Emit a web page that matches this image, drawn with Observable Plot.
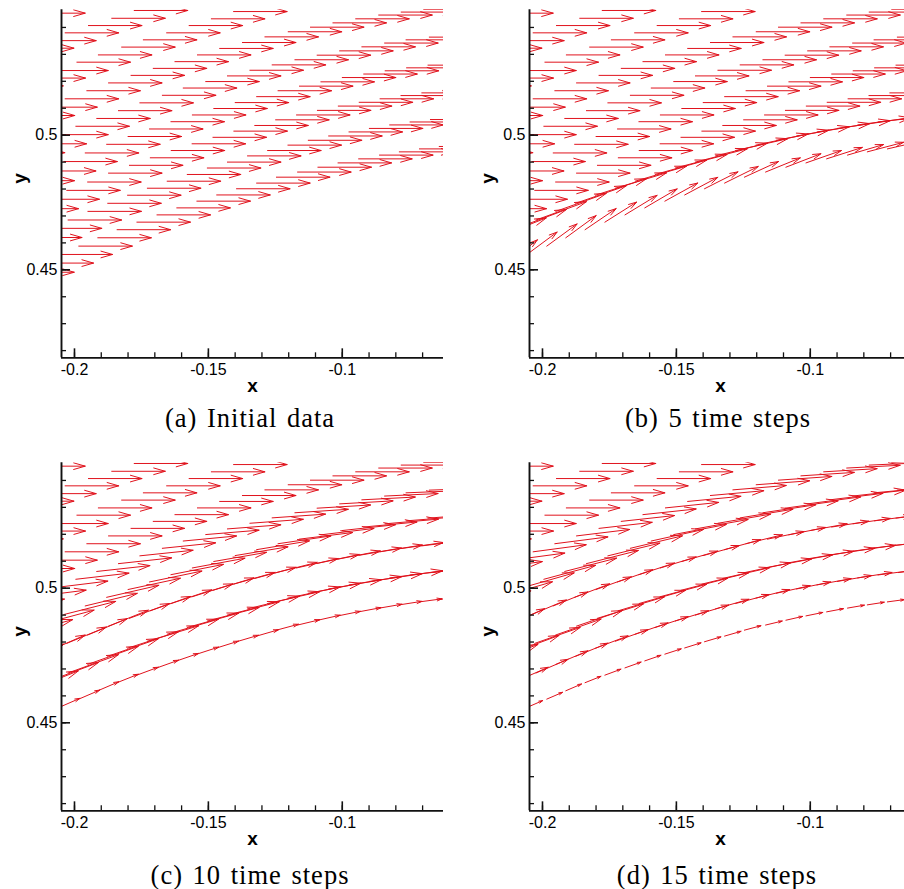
<!DOCTYPE html>
<html><head><meta charset="utf-8">
<script src="https://cdn.jsdelivr.net/npm/d3@7"></script>
<script src="https://cdn.jsdelivr.net/npm/@observablehq/plot@0.6"></script>
<style>
html,body{margin:0;padding:0;background:#fff;}
body{width:904px;height:889px;overflow:hidden;position:relative;}
.panel{position:absolute;width:444px;}
.panel svg{max-width:none !important;}
.cap{position:absolute;transform:translate(-50%,-50%);white-space:nowrap;font-family:"Liberation Serif","Times New Roman",serif;font-size:26.5px;line-height:1;letter-spacing:1px;word-spacing:2px;color:#000;}
</style></head><body>
<script>
// ---------- data: particle rows (arrow tails) ----------
const rowZ_x = [-0.2160];
const rowZ_y = [0.5453];
const rowA_x = [-0.2202, -0.2119, -0.2035, -0.1948, -0.1861, -0.1777];
const rowA_y = [0.5323, 0.5351, 0.5380, 0.5407, 0.5434, 0.5463];
const rowB_x = [-0.2242, -0.2159, -0.2074, -0.1991, -0.1911, -0.1824, -0.1743, -0.1656, -0.1572, -0.1489, -0.1406];
const rowB_y = [0.5183, 0.5212, 0.5240, 0.5271, 0.5298, 0.5327, 0.5354, 0.5380, 0.5407, 0.5432, 0.5459];
const rowC_x = [-0.2199, -0.2115, -0.2035, -0.1954, -0.1873, -0.1789, -0.1706, -0.1625, -0.1541, -0.1458, -0.1373, -0.1289, -0.1202, -0.1119, -0.1035, -0.0950, -0.0864, -0.0780, -0.0696];
const rowC_y = [0.5073, 0.5104, 0.5135, 0.5165, 0.5194, 0.5222, 0.5248, 0.5273, 0.5298, 0.5322, 0.5344, 0.5365, 0.5384, 0.5401, 0.5417, 0.5432, 0.5446, 0.5457, 0.5467];
const rowD_x = [-0.2236, -0.2155, -0.2074, -0.1995, -0.1917, -0.1836, -0.1756, -0.1672, -0.1594, -0.1510, -0.1429, -0.1345, -0.1262, -0.1177, -0.1094, -0.1010, -0.0927, -0.0842, -0.0762, -0.0675];
const rowD_y = [0.4935, 0.4968, 0.5002, 0.5033, 0.5062, 0.5091, 0.5120, 0.5148, 0.5175, 0.5199, 0.5220, 0.5241, 0.5261, 0.5280, 0.5297, 0.5313, 0.5328, 0.5342, 0.5354, 0.5364];
const rowE_x = [-0.2200, -0.2120, -0.2040, -0.1960, -0.1880, -0.1800, -0.1720, -0.1640, -0.1560, -0.1480, -0.1400, -0.1320, -0.1240, -0.1160, -0.1080, -0.1000, -0.0920, -0.0840, -0.0760, -0.0680];
const rowE_y = [0.4831, 0.4867, 0.4902, 0.4934, 0.4966, 0.4995, 0.5023, 0.5050, 0.5075, 0.5099, 0.5121, 0.5143, 0.5165, 0.5182, 0.5198, 0.5214, 0.5227, 0.5239, 0.5250, 0.5260];
const rowF_x = [-0.2185, -0.2107, -0.2029, -0.1951, -0.1873, -0.1795, -0.1717, -0.1639, -0.1561, -0.1483, -0.1405, -0.1327, -0.1249, -0.1171, -0.1093, -0.1015, -0.0937, -0.0859, -0.0781, -0.0703, -0.0625];
const rowF_y = [0.4727, 0.4762, 0.4795, 0.4826, 0.4859, 0.4888, 0.4916, 0.4943, 0.4968, 0.4992, 0.5015, 0.5036, 0.5057, 0.5075, 0.5092, 0.5108, 0.5122, 0.5135, 0.5147, 0.5157, 0.5166];
const rowG_x = [-0.2172, -0.2098, -0.2024, -0.1950, -0.1876, -0.1802, -0.1728, -0.1654, -0.1579, -0.1504, -0.1429, -0.1354, -0.1279, -0.1203, -0.1127, -0.1051, -0.0975, -0.0899, -0.0823, -0.0747, -0.0671];
const rowG_y = [0.4620, 0.4654, 0.4685, 0.4717, 0.4747, 0.4777, 0.4803, 0.4829, 0.4854, 0.4878, 0.4900, 0.4923, 0.4943, 0.4963, 0.4981, 0.4997, 0.5012, 0.5025, 0.5038, 0.5049, 0.5058];
const rowH_x = [-0.2201, -0.2129, -0.2058, -0.1984, -0.1913, -0.1841, -0.1767, -0.1692, -0.1618, -0.1543, -0.1469, -0.1395, -0.1320, -0.1246, -0.1167, -0.1091, -0.1016, -0.0939, -0.0861, -0.0787, -0.0712, -0.0638];
const rowH_y = [0.4491, 0.4525, 0.4557, 0.4588, 0.4619, 0.4649, 0.4677, 0.4704, 0.4730, 0.4755, 0.4778, 0.4801, 0.4822, 0.4844, 0.4863, 0.4881, 0.4897, 0.4912, 0.4926, 0.4938, 0.4949, 0.4958];

const rowNames = ["Z", "A", "B", "C", "D", "E", "F", "G", "H"];

// per panel, per row: arrow tilt (fraction of the row's local direction) and arrow length
const panelLabels = ["(a) Initial data", "(b) 5 time steps", "(c) 10 time steps", "(d) 15 time steps"];
const tiltA = [0, 0, 0, 0, 0, 0, 0, 0, 0];
const lenA  = [0.02, 0.02, 0.02, 0.02, 0.02, 0.02, 0.02, 0.02, 0.02];
const tiltB = [0, 0, 0, 0, 0, 0, 0, 0.85, 1.7];
const lenB  = [0.02, 0.02, 0.02, 0.02, 0.02, 0.02, 0.02, 0.02, 0.014];
const tiltC = [0, 0, 0, 0, 0.3, 0.6, 1, 0.85, 1];
const lenC  = [0.02, 0.02, 0.02, 0.02, 0.02, 0.02, 0.016, 0.02, 0.0085];
const tiltD = [0, 0, 0, 0.35, 0.7, 1, 0.85, 1, 1];
const lenD  = [0.02, 0.02, 0.02, 0.02, 0.02, 0.014, 0.018, 0.013, 0.0064];

// axes
const xDomain = [-0.20485, -0.0622];
const yDomain = [0.41732, 0.54654];
const xMajor = [-0.2, -0.15, -0.1];
const xMinor = [-0.2, -0.19, -0.18, -0.17, -0.16, -0.15, -0.14, -0.13, -0.12, -0.11, -0.1, -0.09, -0.08, -0.07];
const yMajor = [0.45, 0.5];
const yMinor = [0.42, 0.43, 0.44, 0.45, 0.46, 0.47, 0.48, 0.49, 0.5, 0.51, 0.52, 0.53, 0.54];

// ---------- drawing ----------
const rows = {
  Z: {x: rowZ_x, y: rowZ_y}, A: {x: rowA_x, y: rowA_y}, B: {x: rowB_x, y: rowB_y},
  C: {x: rowC_x, y: rowC_y}, D: {x: rowD_x, y: rowD_y}, E: {x: rowE_x, y: rowE_y},
  F: {x: rowF_x, y: rowF_y}, G: {x: rowG_x, y: rowG_y}, H: {x: rowH_x, y: rowH_y}
};
const RED = "#e0121c";
const FW = 382, FH = 348, ML = 61, MT = 9.33, MB = 52, MR = 1;

function arrowsFor(row, tilt, len) {
  const xs = row.x, ys = row.y, n = xs.length;
  return xs.map((x, i) => {
    const j0 = Math.max(0, i - 1), j1 = Math.min(n - 1, i + 1);
    const dir = j1 > j0 ? (ys[j1] - ys[j0]) / (xs[j1] - xs[j0]) : 0;
    const s = tilt * dir;
    const h = Math.hypot(1, s);
    return {x1: x, y1: ys[i], x2: x + len / h, y2: ys[i] + len * s / h};
  });
}

function makePanel(tilts, lens) {
  const marks = [];
  rowNames.forEach((name, k) => {
    marks.push(Plot.arrow(arrowsFor(rows[name], tilts[k], lens[k]), {
      x1: "x1", y1: "y1", x2: "x2", y2: "y2",
      stroke: RED, strokeWidth: 1, headAngle: 32, headLength: 18 * lens[k] / 0.02, clip: true
    }));
  });
  marks.push(
    Plot.tickX(xMinor, {x: d => d, insetTop: FH - 5, stroke: "#111", strokeWidth: 1.3}),
    Plot.tickX(xMajor, {x: d => d, insetTop: FH - 9, stroke: "#111", strokeWidth: 1.6}),
    Plot.tickY(yMinor, {y: d => d, insetRight: FW - 5, stroke: "#111", strokeWidth: 1.3}),
    Plot.tickY(yMajor, {y: d => d, insetRight: FW - 9, stroke: "#111", strokeWidth: 1.6}),
    Plot.ruleX([xDomain[0]], {stroke: "#111", strokeWidth: 1.9}),
    Plot.ruleY([yDomain[0]], {stroke: "#111", strokeWidth: 1.9}),
    Plot.axisX(xMajor, {tickSize: 0, tickPadding: 6, tickFormat: d => String(d), label: null, fontSize: 16}),
    Plot.axisY(yMajor, {tickSize: 0, tickPadding: 4, tickFormat: d => String(d), label: null, fontSize: 16}),
    Plot.text(["x"], {text: d => d, frameAnchor: "bottom", dy: 34, fontWeight: "bold", fontSize: 19}),
    Plot.text(["y"], {text: d => d, frameAnchor: "left", dx: -42, rotate: -90, fontWeight: "bold", fontSize: 19})
  );
  return Plot.plot({
    width: ML + FW + MR, height: MT + FH + MB,
    marginLeft: ML, marginRight: MR, marginTop: MT, marginBottom: MB,
    x: {domain: xDomain}, y: {domain: yDomain},
    style: {fontFamily: "'Liberation Sans', Arial, sans-serif", fontSize: "16px", color: "#000", background: "transparent", overflow: "visible", maxWidth: "none"},
    marks
  });
}

const specs = [
  {t: tiltA, l: lenA, left: 0, top: 0, cx: 250, cy: 418},
  {t: tiltB, l: lenB, left: 468, top: 0, cx: 718, cy: 418},
  {t: tiltC, l: lenC, left: 0, top: 453.4, cx: 250, cy: 875},
  {t: tiltD, l: lenD, left: 468, top: 453.4, cx: 717, cy: 875}
];
specs.forEach((s, i) => {
  const wrap = document.createElement("div");
  wrap.className = "panel";
  wrap.style.left = s.left + "px";
  wrap.style.top = s.top + "px";
  wrap.appendChild(makePanel(s.t, s.l));
  document.body.appendChild(wrap);
  const cap = document.createElement("div");
  cap.className = "cap";
  cap.style.left = s.cx + "px";
  cap.style.top = s.cy + "px";
  cap.textContent = panelLabels[i];
  document.body.appendChild(cap);
});
</script>
</body></html>
